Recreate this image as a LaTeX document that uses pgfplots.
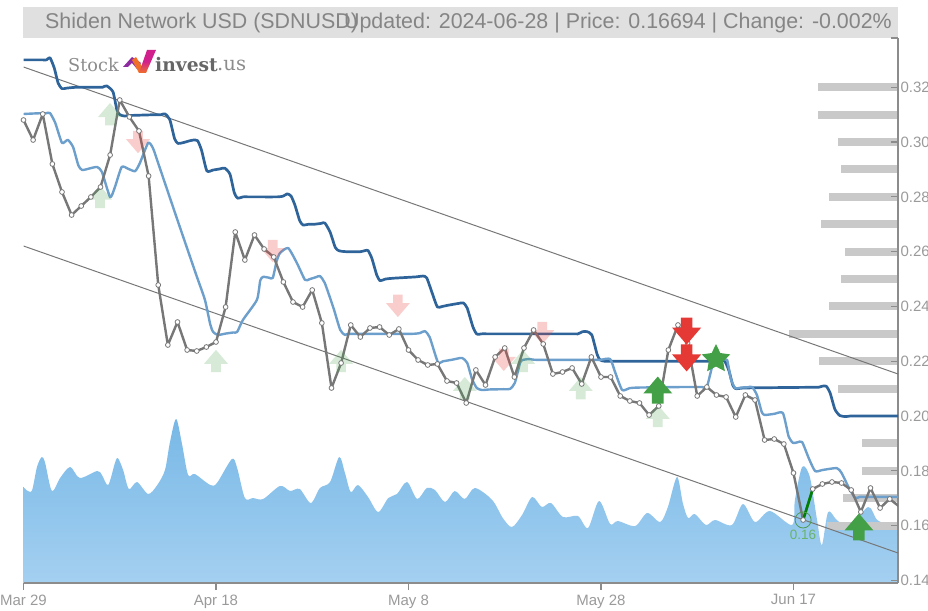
\documentclass[border=0pt]{standalone}
\usepackage{fontspec}
\setmainfont{Liberation Sans}
\newfontfamily\logofont{DejaVu Serif}
\usepackage{pgfplots}
\pgfplotsset{compat=1.18}
\definecolor{darkln}{HTML}{2E6499}
\definecolor{lightln}{HTML}{6C9FCB}
\definecolor{pricegray}{HTML}{777777}
\definecolor{axisgray}{HTML}{8C8C8C}
\definecolor{ticktext}{HTML}{9A9A9A}
\definecolor{barsgray}{HTML}{C9C9C9}
\definecolor{band}{HTML}{E0E0E0}
\definecolor{titletext}{HTML}{858585}
\definecolor{sred}{HTML}{E53935}
\definecolor{sgreen}{HTML}{43A047}
\definecolor{areatop}{HTML}{78B8E6}
\definecolor{areabot}{HTML}{A4D0F1}
\definecolor{logomag}{HTML}{D11F8C}
\definecolor{logopur}{HTML}{8E2BA0}
\definecolor{logoora}{HTML}{F0702A}
\pgfdeclareplotmark{uparr}{%
 \pgfpathmoveto{\pgfpoint{0pt}{.93\pgfplotmarksize}}%
 \pgfpathlineto{\pgfpoint{\pgfplotmarksize}{-.24\pgfplotmarksize}}%
 \pgfpathlineto{\pgfpoint{.4\pgfplotmarksize}{-.24\pgfplotmarksize}}%
 \pgfpathlineto{\pgfpoint{.4\pgfplotmarksize}{-.93\pgfplotmarksize}}%
 \pgfpathlineto{\pgfpoint{-.4\pgfplotmarksize}{-.93\pgfplotmarksize}}%
 \pgfpathlineto{\pgfpoint{-.4\pgfplotmarksize}{-.24\pgfplotmarksize}}%
 \pgfpathlineto{\pgfpoint{-\pgfplotmarksize}{-.24\pgfplotmarksize}}%
 \pgfpathclose\pgfusepathqfill}
\pgfdeclareplotmark{downarr}{%
 \pgfpathmoveto{\pgfpoint{0pt}{-.93\pgfplotmarksize}}%
 \pgfpathlineto{\pgfpoint{\pgfplotmarksize}{.24\pgfplotmarksize}}%
 \pgfpathlineto{\pgfpoint{.4\pgfplotmarksize}{.24\pgfplotmarksize}}%
 \pgfpathlineto{\pgfpoint{.4\pgfplotmarksize}{.93\pgfplotmarksize}}%
 \pgfpathlineto{\pgfpoint{-.4\pgfplotmarksize}{.93\pgfplotmarksize}}%
 \pgfpathlineto{\pgfpoint{-.4\pgfplotmarksize}{.24\pgfplotmarksize}}%
 \pgfpathlineto{\pgfpoint{-\pgfplotmarksize}{.24\pgfplotmarksize}}%
 \pgfpathclose\pgfusepathqfill}
\pgfdeclareplotmark{fatstar}{%
 \pgfpathmoveto{\pgfpoint{0pt}{\pgfplotmarksize}}%
 \pgfpathlineto{\pgfpoint{.29\pgfplotmarksize}{.40\pgfplotmarksize}}%
 \pgfpathlineto{\pgfpoint{.95\pgfplotmarksize}{.31\pgfplotmarksize}}%
 \pgfpathlineto{\pgfpoint{.48\pgfplotmarksize}{-.15\pgfplotmarksize}}%
 \pgfpathlineto{\pgfpoint{.59\pgfplotmarksize}{-.81\pgfplotmarksize}}%
 \pgfpathlineto{\pgfpoint{0pt}{-.5\pgfplotmarksize}}%
 \pgfpathlineto{\pgfpoint{-.59\pgfplotmarksize}{-.81\pgfplotmarksize}}%
 \pgfpathlineto{\pgfpoint{-.48\pgfplotmarksize}{-.15\pgfplotmarksize}}%
 \pgfpathlineto{\pgfpoint{-.95\pgfplotmarksize}{.31\pgfplotmarksize}}%
 \pgfpathlineto{\pgfpoint{-.29\pgfplotmarksize}{.40\pgfplotmarksize}}%
 \pgfpathclose\pgfusepathqfill}
\begin{document}
\begin{tikzpicture}
\clip[use as bounding box] (0pt,0pt) rectangle (928pt,610pt);
\fill[band] (23pt,572pt) rectangle (898pt,603pt);
% volume area
\begin{axis}[at={(23.5pt,27pt)},anchor=south west,scale only axis,width=874.5pt,height=545pt,
  xmin=0,xmax=90.86,ymin=0,ymax=545,hide axis]
\addplot[draw=none,shade,top color=areatop,bottom color=areabot,smooth,tension=0.5] coordinates {
(0,96)(.45,92)(.9,93)(1.4,116)(1.9,126)(2.25,120)(2.95,92)(3.8,105)(4.85,116)(5.85,105)(7.65,112)(8.15,108)(8.8,98)(9.5,120)(9.8,125)(10.35,113)(10.95,94)(11.8,101)(12.95,89)(13.9,98)(14.7,113)(15.2,140)(15.85,164)(16.45,140)(17.1,108)(17.8,109)(19.4,98)(20.1,100)(21.65,124)(22.2,115)(23,85)(23.85,85)(24.9,84)(26.65,97)(27.7,92)(28.7,94)(29.85,80)(30.8,95)(31.85,101)(32.8,126)(33.4,110)(34,91)(34.75,98)(35.8,86)(36.85,71)(37.9,85)(38.8,89)(39.85,101)(40.9,84)(41.9,95)(42.75,93)(43.8,81)(44.8,92)(45.85,84)(46.9,95)(48.7,83)(49.8,65)(50.75,56)(51.8,68)(52.85,86)(53.85,76)(54.8,80)(56.05,66)(57.6,67)(58.65,55)(59.8,82)(60.95,59)(61.75,62)(63.55,57)(64.8,70)(66.15,61)(66.95,76)(67.9,106)(68.5,80)(69.05,65)(69.75,69)(70.9,58)(71.85,63)(73.6,58)(74.75,79)(76,61)(77.55,72)(79.85,58)(80.15,83)(80.9,116)(81.7,106)(82.45,63)(82.95,38)(83.6,71)(84.5,63)(85.85,56)(87.75,76)(88.7,63)(90,58)(90.86,55)
} \closedcycle;
\end{axis}
% volume at price
\begin{axis}[at={(23.5pt,27pt)},anchor=south west,scale only axis,width=874.5pt,height=545pt,
  xmin=0,xmax=874.5,ymin=0.13906,ymax=0.33799,x dir=reverse,hide axis]
\addplot[xcomb,barsgray,line width=8pt] coordinates {
(80,0.32)(80,0.31)(60,0.30)(57,0.29)(69,0.28)(77,0.27)(53,0.26)(57,0.25)(69,0.24)(109,0.23)(79,0.22)(60,0.21)(36,0.19)(36,0.18)(55,0.17)(71,0.16)};
\end{axis}
% price axis
\begin{axis}[at={(23.5pt,27pt)},anchor=south west,scale only axis,width=874.5pt,height=545pt,
  xmin=0,xmax=90.86,ymin=0.13906,ymax=0.33799,
  axis x line=bottom,axis y line=right,
  axis line style={-,axisgray,line width=1.4pt},
  tick style={axisgray,line width=1.2pt},
  xtick={0,20,40,60,80},xticklabels={Mar 29,Apr 18,May 8,May 28,Jun 17},
  ytick={0.14,0.16,0.18,0.20,0.22,0.24,0.26,0.28,0.30,0.32},
  extra y ticks={0.33799},extra y tick labels={},
  xtick align=outside,ytick align=inside,major tick length=7pt,
  tick label style={font=\fontsize{15}{17}\selectfont,text=ticktext},
  /pgf/number format/assume math mode=true,
  yticklabel style={/pgf/number format/fixed,/pgf/number format/fixed zerofill,/pgf/number format/precision=2,xshift=-1pt},
  xticklabel style={yshift=-1pt},
  clip=true]
% channel
\addplot[pricegray,line width=1pt] coordinates {(0,0.3274)(90.86,0.21535)};
\addplot[pricegray,line width=1pt] coordinates {(0,0.26207)(90.86,0.15001)};
% faint signals
\addplot[only marks,mark=uparr,mark size=12pt,color=sgreen,opacity=.22] coordinates {(8.99,.3102)(7.95,.2800)(20,.2201)(33,.2201)(45.85,.2102)(51.9,.2201)(57.9,.2102)(65.9,.2000)};
\addplot[only marks,mark=downarr,mark size=12pt,color=sred,opacity=.25] coordinates {(11.9,.3000)(25.9,.2602)(38.9,.2402)(49.9,.2205)(53.9,.2303)};
% slow moving level
\addplot[darkln,line width=2.7pt,line join=round,smooth,tension=0.35] coordinates {
(0,.33)(1.5,.33)(2,.33)(2.4,.33)(2.75,.3308)(3.2,.327)(3.6,.3215)(4,.3195)(4.5,.3197)(5.5,.32)(7.8,.32)(8.2,.32)(8.65,.3205)(9.3,.3183)(9.7,.3118)(10,.31)(10.5,.3095)(11,.3097)(13.8,.31)(14.3,.31)(14.7,.3103)(15.2,.3082)(15.7,.3012)(16.05,.2995)(16.6,.2998)(17.3,.3005)(17.8,.3008)(18.1,.3005)(18.5,.297)(19.05,.2895)(19.7,.2898)(20.4,.2902)(20.9,.2905)(21.45,.2883)(21.9,.2815)(22.25,.2795)(22.8,.28)(23.4,.28)(26.4,.28)(27,.2803)(27.4,.2811)(27.8,.2803)(28.2,.277)(28.7,.2713)(29.05,.2697)(29.6,.27)(30.2,.27)(30.9,.2703)(31.3,.2705)(31.85,.2672)(32.4,.2615)(32.8,.2603)(33.5,.26)(35,.26)(35.5,.2604)(35.8,.2604)(36.2,.2575)(36.7,.2515)(37.05,.2494)(37.6,.25)(38.4,.2503)(40.8,.2508)(41.5,.2511)(41.9,.2504)(42.5,.2445)(43,.2398)(43.5,.24)(44.2,.2405)(45.2,.2411)(45.7,.2413)(46.1,.2394)(46.7,.2325)(47.1,.2299)(47.6,.23)(48.5,.23)(57,.23)(57.6,.23)(58.1,.2308)(58.55,.2308)(59.05,.2296)(59.6,.2225)(59.9,.2205)(60.4,.22)(62,.22)(71.5,.22)(72.1,.22)(72.6,.2204)(72.9,.2198)(73.3,.2165)(73.7,.2112)(74,.21)(74.7,.2102)(76,.2103)(82,.2105)(82.6,.2105)(83,.2109)(83.4,.2109)(83.8,.2085)(84.3,.2025)(84.8,.2002)(85.4,.1998)(85.9,.20)(87,.20)(90.86,.20)};
% fast moving level
\addplot[lightln,line width=2.4pt,line join=round,smooth,tension=0.35] coordinates {
(0,.31025)(1.5,.3105)(2.3,.3105)(2.75,.3106)(3.3,.307)(4,.2997)(4.6,.3008)(5.15,.2982)(5.7,.2915)(6.1,.2898)(6.9,.2904)(7.65,.2909)(8.15,.2891)(9,.2799)(9.5,.2836)(10.2,.2909)(10.9,.2902)(11.6,.2894)(12.1,.2924)(12.95,.2997)(13.45,.2978)(14.1,.2912)(16,.2715)(17.9,.2520)(18.85,.2424)(19.4,.2335)(19.7,.2307)(20.2,.2296)(21,.2301)(21.8,.2305)(22.2,.2307)(22.8,.2351)(24.25,.2424)(24.6,.2495)(24.9,.2508)(25.5,.2505)(25.9,.2504)(26.3,.2565)(26.65,.2595)(27.5,.2613)(28.4,.2559)(29.25,.2497)(29.75,.25)(30.4,.2507)(30.8,.2511)(31.3,.2486)(32.2,.2395)(32.9,.2315)(33.4,.2296)(34,.23)(40,.23)(40.8,.2301)(41.2,.2303)(41.7,.231)(42.2,.2288)(43.05,.2197)(43.6,.22)(44.6,.2206)(45.55,.2212)(46.1,.2194)(46.6,.2135)(47.1,.2102)(47.65,.2095)(48.4,.2097)(49.9,.2098)(50.55,.2099)(51.05,.2121)(51.6,.2195)(51.9,.2205)(52.6,.2208)(53.4,.2205)(59,.2205)(59.9,.2205)(60.95,.2208)(61.5,.2157)(62.2,.2095)(63,.2102)(64,.2104)(68.6,.2106)(69.45,.2106)(70.5,.2106)(71,.2106)(71.65,.2194)(72.05,.2205)(72.6,.2205)(73.1,.2205)(73.5,.2135)(73.95,.2102)(74.6,.2104)(75.2,.2105)(75.7,.2106)(76.2,.2077)(76.7,.2015)(77,.2004)(78,.2008)(78.9,.2011)(79.5,.1925)(79.95,.1902)(80.4,.1904)(80.9,.1905)(81.6,.1845)(82.25,.1799)(83,.1803)(84.5,.181)(85,.1792)(85.7,.1742)(86.4,.1701)(86.9,.1705)(88,.1705)(90.86,.1705)};
% price
\addplot[pricegray,line width=2.4pt,line join=round,mark=*,mark size=2.4pt,mark options={fill=white,draw=pricegray,line width=.8pt}] coordinates {
(0,.30806)(1,.30076)(2,.31025)(3,.2920)(4,.28178)(5,.27338)(6,.27667)(7,.27996)(8,.2836)(9,.29528)(10,.31536)(11,.30916)(12,.30404)(13,.28762)(14,.24783)(15,.22593)(16,.23433)(17,.22411)(18,.22374)(19,.2252)(20,.22703)(21,.2398)(22,.26718)(23,.25696)(24,.26608)(25,.26097)(26,.25805)(27,.24893)(28,.24163)(29,.2398)(30,.24601)(31,.23396)(32,.21024)(33,.21936)(34,.23323)(35,.22885)(36,.23214)(37,.2325)(38,.22958)(39,.23177)(40,.22411)(41,.22046)(42,.21863)(43,.219)(44,.21279)(45,.21206)(46,.20476)(47,.21681)(48,.21133)(49,.22155)(50,.22484)(51,.21425)(52,.22484)(53,.23141)(54,.2263)(55,.21535)(56,.21608)(57,.21754)(58,.2117)(59,.22155)(60,.21425)(61,.21425)(62,.20732)(63,.20549)(64,.20476)(65,.20038)(66,.20367)(67,.22411)(68,.23323)(69,.22666)(70,.20732)(71,.2106)(72,.20768)(73,.20695)(74,.19965)(75,.20768)(76,.20586)(77,.19126)(78,.19162)(79,.1898)(80,.17921)(81,.16206)(82,.17337)(83,.1752)(84,.17593)(85,.17556)(86,.17301)(87,.16498)(88,.17374)(89,.16644)(90,.16972)(91,.16694)};
\addplot[color=green!50!black,line width=2.6pt] coordinates {(81,.16206)(82,.17337)};
\addplot[only marks,mark=o,mark size=8pt,mark options={draw=sgreen!80!gray,line width=.8pt}] coordinates {(81,.16206)};
\node[text=sgreen!80!white,font=\fontsize{13.5}{15}\selectfont] at (axis cs:81,.1566) {0.16};
% strong signals
\addplot[only marks,mark=downarr,mark size=14.5pt,color=sred] coordinates {(68.9,.2310)(68.9,.2212)};
\addplot[only marks,mark=uparr,mark size=14.5pt,color=sgreen] coordinates {(65.9,.2095)(86.8,.1595)};
\addplot[only marks,mark=fatstar,mark size=15pt,color=sgreen] coordinates {(71.95,.2208)};
\end{axis}
% title and logo
\begin{scope}[x=1pt,y=1pt]
\node[anchor=west,inner sep=0,text=titletext,font=\fontsize{21.4}{25}\selectfont] at (45,587) {Shiden Network USD (SDNUSD)};
\node[anchor=east,inner sep=0,text=titletext,font=\fontsize{21.4}{25}\selectfont] at (892,587) {Updated: 2024-06-28 | Price: 0.16694 | Change: -0.002\%};
\node[anchor=west,inner sep=0,text=gray!90,font=\logofont\fontsize{17.7}{20}\selectfont] at (68,545) {Stock};
\fill[logopur] (123,543) -- (132,553) -- (141,547) -- (137,541) -- (132,547) -- (128,543) -- cycle;
\fill[logoora] (132,550) -- (136,553) -- (146,537) -- (139,537) -- cycle;
\shade[bottom color=logoora,top color=logomag,middle color=logomag] (139,537) -- (146,537) -- (156,560) -- (147,560) -- cycle;
\node[anchor=west,inner sep=0,text=gray!80!black,font=\logofont\bfseries\fontsize{18.7}{20}\selectfont] at (155,545) {invest};
\node[anchor=west,inner sep=0,text=gray!90,font=\logofont\fontsize{19.6}{20}\selectfont] at (217,545) {.us};
\end{scope}
\end{tikzpicture}
\end{document}
